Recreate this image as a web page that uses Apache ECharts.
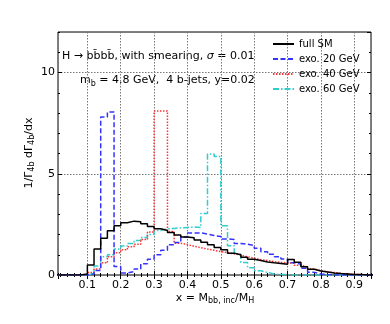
<!DOCTYPE html>
<html>
<head>
<meta charset="utf-8">
<script src="https://cdn.jsdelivr.net/npm/echarts@6/dist/echarts.min.js"></script>
<style>html,body{margin:0;padding:0;background:#fff}#c{width:390px;height:324px}</style>
</head>
<body>
<div id="c"></div>
<script>
// Bin edges (x = M_bb,inc / M_H), bin width 0.02
const binEdges = [0.00,0.02,0.04,0.06,0.08,0.10,0.12,0.14,0.16,0.18,0.20,0.22,0.24,0.26,0.28,0.30,0.32,0.34,0.36,0.38,0.40,0.42,0.44,0.46,0.48,0.50,0.52,0.54,0.56,0.58,0.60,0.62,0.64,0.66,0.68,0.70,0.72,0.74,0.76,0.78,0.80,0.82,0.84,0.86,0.88,0.90,0.92,0.94,0.96];
const seriesNames = ['full SM', 'exo. 20 GeV', 'exo. 40 GeV', 'exo. 60 GeV'];
const fullSM = [0,0,0,0,0.05,0.49,1.29,1.81,2.19,2.43,2.58,2.66,2.63,2.53,2.4,2.28,2.2,2.1,1.98,1.88,1.84,1.73,1.62,1.5,1.36,1.25,1.08,1.0,0.88,0.78,0.72,0.64,0.6,0.57,0.53,0.77,0.63,0.41,0.28,0.2,0.15,0.1,0.07,0.05,0.03,0.02,0,0];
const exo20 = [0,0,0,0,0,0.05,0.22,7.8,8.05,0.42,0.1,0.17,0.3,0.55,0.78,1.0,1.22,1.5,1.6,1.88,2.08,2.08,2.02,1.95,1.9,1.78,1.75,1.56,1.52,1.46,1.32,1.15,1.02,0.9,0.79,0.61,0.53,0.33,0.13,0.05,0.02,0,0,0,0,0,0,0];
const exo40 = [0,0,0,0,0,0.12,0.3,0.6,0.9,1.1,1.25,1.4,1.52,1.75,2.12,8.1,8.1,2.15,1.57,1.5,1.42,1.35,1.28,1.22,1.15,1.1,1.05,0.98,0.9,0.83,0.76,0.72,0.66,0.62,0.6,0.58,0.48,0.4,0.3,0.21,0.16,0.12,0.08,0.05,0.03,0.02,0,0];
const exo60 = [0,0,0,0,0,0.08,0.45,0.9,1.0,1.28,1.43,1.55,1.7,1.85,2.0,2.2,2.28,2.3,2.33,2.35,2.37,2.35,3.04,5.97,5.85,2.43,1.45,1.02,0.62,0.36,0.21,0.12,0.05,0.03,0.02,0,0,0,0,0,0,0,0,0];
const yTickLabels = ['0', '5', '10'];
const xTickLabels = ['0.1','0.2','0.3','0.4','0.5','0.6','0.7','0.8','0.9'];
const xTitle = 'x = M{sub|bb, inc}/M{sub|H}';
const yTitle = '1/Γ{sub|4b} dΓ{sub|4b}/dx';

const FONT = 'DejaVu Sans';
function hist(vals) {
  const d = [];
  for (let i = 0; i < binEdges.length - 1; i++) d.push([binEdges[i], vals[i] || 0]);
  d.push([binEdges[binEdges.length - 1], vals[binEdges.length - 2] || 0]);
  return d;
}
const gridBox = {left: 58, right: 19, top: 32, bottom: 49};
const subRich = {
  sub: {fontSize: 8, fontFamily: FONT, padding: [6, 0, 0, 0], color: '#000'},
  i: {fontStyle: 'italic', fontSize: 11, fontFamily: FONT, color: '#000'}
};
const XMIN = 0.012, XMAX = 0.95, YMIN = 0, YMAX = 12;

const chart = echarts.init(document.getElementById('c'), null, {renderer: 'canvas'});
const styles = [
  {color: '#000000', type: 'solid'},
  {color: '#3333ff', type: [5, 2.5]},
  {color: '#ff3333', type: [1.5, 1.5]},
  {color: '#33cccc', type: [6, 2, 1.5, 2]}
];
const allVals = [fullSM, exo20, exo40, exo60];

chart.setOption({
  animation: false,
  backgroundColor: '#fff',
  grid: [
    Object.assign({show: true, borderColor: '#000', borderWidth: 1, backgroundColor: 'transparent'}, gridBox),
    Object.assign({}, gridBox)
  ],
  legend: {
    orient: 'vertical', left: 272, top: 38, padding: 0,
    itemWidth: 21, itemHeight: 12, itemGap: 3,
    data: seriesNames,
    itemStyle: {color: 'rgba(0,0,0,0)', borderWidth: 0, opacity: 0},
    textStyle: {fontFamily: FONT, fontSize: 10, color: '#000', lineHeight: 12}
  },
  xAxis: [
    {type: 'value', gridIndex: 0, position: 'bottom', min: XMIN, max: XMAX, splitNumber: 9,
     axisLine: {show: false},
     axisTick: {show: true, inside: true, length: 4, lineStyle: {color: '#000'}},
     axisLabel: {show: true, margin: 5, fontFamily: FONT, fontSize: 11, color: '#000',
       showMinLabel: false, showMaxLabel: false,
       formatter: v => { const s = v.toFixed(1); return xTickLabels.includes(s) && Math.abs(v - Math.round(v*10)/10) < 1e-6 ? s : ''; }},
     splitLine: {show: true, lineStyle: {color: '#777', type: [1.5, 1.5], width: 1}}},
    {type: 'value', gridIndex: 0, position: 'top', min: XMIN, max: XMAX, splitNumber: 9,
     axisLine: {show: false}, axisLabel: {show: false}, splitLine: {show: false},
     axisTick: {show: true, inside: true, length: 4, lineStyle: {color: '#000'}}},
    {type: 'value', gridIndex: 1, position: 'bottom', min: XMIN, max: XMAX, splitNumber: 47,
     axisLine: {show: false}, axisLabel: {show: false}, splitLine: {show: false},
     axisTick: {show: true, inside: true, length: 2, lineStyle: {color: '#000'}}},
    {type: 'value', gridIndex: 1, position: 'top', min: XMIN, max: XMAX, splitNumber: 47,
     axisLine: {show: false}, axisLabel: {show: false}, splitLine: {show: false},
     axisTick: {show: true, inside: true, length: 2, lineStyle: {color: '#000'}}}
  ],
  yAxis: [
    {type: 'value', gridIndex: 0, position: 'left', min: YMIN, max: YMAX, interval: 5,
     axisLine: {show: false},
     axisTick: {show: true, inside: true, length: 4, lineStyle: {color: '#000'}},
     axisLabel: {show: true, margin: 3, fontFamily: FONT, fontSize: 11, color: '#000',
       showMaxLabel: false,
       formatter: v => yTickLabels.includes(String(v)) ? String(v) : ''},
     splitLine: {show: true, lineStyle: {color: '#777', type: [1.5, 1.5], width: 1}}},
    {type: 'value', gridIndex: 0, position: 'right', min: YMIN, max: YMAX, interval: 5,
     axisLine: {show: false}, axisLabel: {show: false}, splitLine: {show: false},
     axisTick: {show: true, inside: true, length: 4, lineStyle: {color: '#000'}}},
    {type: 'value', gridIndex: 1, position: 'left', min: YMIN, max: YMAX, interval: 1,
     axisLine: {show: false}, axisLabel: {show: false}, splitLine: {show: false},
     axisTick: {show: true, inside: true, length: 2, lineStyle: {color: '#000'}}},
    {type: 'value', gridIndex: 1, position: 'right', min: YMIN, max: YMAX, interval: 1,
     axisLine: {show: false}, axisLabel: {show: false}, splitLine: {show: false},
     axisTick: {show: true, inside: true, length: 2, lineStyle: {color: '#000'}}}
  ],
  series: seriesNames.map((n, k) => ({
    name: n, type: 'line', step: 'end', xAxisIndex: 0, yAxisIndex: 0,
    symbol: 'none', clip: true, z: 10 - k,
    data: hist(allVals[k]),
    color: styles[k].color,
    lineStyle: {color: styles[k].color, width: 1.5, type: styles[k].type}
  })),
  graphic: [
    {type: 'text', left: 62, top: 51, style: {
      text: 'H → bb\u0304bb\u0304, with smearing, {i|σ} = 0.01',
      fontFamily: FONT, fontSize: 11, fill: '#000', rich: subRich}},
    {type: 'text', left: 80, top: 75, style: {
      text: 'm{sub|b} = 4.8 GeV,  4 b-jets, y=0.02',
      fontFamily: FONT, fontSize: 11, fill: '#000', rich: subRich}},
    {type: 'text', x: 215, y: 298, style: {
      text: xTitle, align: 'center', verticalAlign: 'middle',
      fontFamily: FONT, fontSize: 11, fill: '#000', rich: subRich}},
    {type: 'text', x: 29, y: 153, rotation: Math.PI / 2, style: {
      text: yTitle, align: 'center', verticalAlign: 'middle',
      fontFamily: FONT, fontSize: 11, fill: '#000', rich: subRich}}
  ]
});
</script>
</body>
</html>
